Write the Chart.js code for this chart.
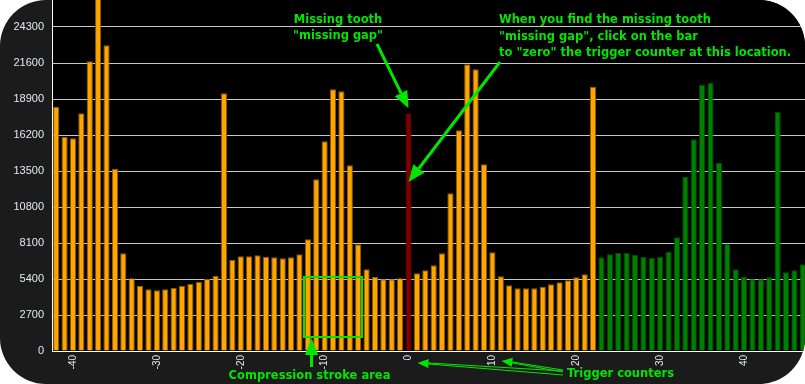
<!DOCTYPE html>
<html><head><meta charset="utf-8">
<script src="https://cdn.jsdelivr.net/npm/chart.js@4/dist/chart.umd.min.js"></script>
<style>
html,body{margin:0;padding:0;background:#fff;overflow:hidden;width:805px;height:384px}
#panel{position:absolute;left:0;top:0;width:805px;height:384px;border-radius:46px;overflow:hidden;background:#1b1b1b}
#wrap{position:absolute;left:0;top:0;width:807px;height:384px}
</style></head><body>
<div id="panel"><div id="wrap"><canvas id="c"></canvas></div></div>
<script>
// Trigger counter positions (categories)
const categories = [-42,-41,-40,-39,-38,-37,-36,-35,-34,-33,-32,-31,-30,-29,-28,-27,-26,-25,-24,-23,-22,-21,-20,-19,-18,-17,-16,-15,-14,-13,-12,-11,-10,-9,-8,-7,-6,-5,-4,-3,-2,-1,0,1,2,3,4,5,6,7,8,9,10,11,12,13,14,15,16,17,18,19,20,21,22,23,24,25,26,27,28,29,30,31,32,33,34,35,36,37,38,39,40,41,42,43,44,45,46,47];
// Bar values
const counts = [18325,16075,15950,17825,21725,27500,22925,13675,7325,5450,4875,4625,4550,4625,4725,4875,5025,5175,5400,5625,19325,6825,7100,7100,7175,7075,7025,6950,7025,7250,8375,12875,15725,19625,19475,13925,8000,6125,5550,5375,5375,5450,17825,5825,6050,6425,7325,11825,16550,21500,21125,14000,7400,5600,4925,4700,4700,4700,4825,5000,5150,5300,5525,5750,19825,7025,7250,7375,7375,7225,7075,7000,7075,7450,8525,13075,15875,19975,20125,14125,8050,6125,5575,5375,5375,5525,17950,5900,6050,6500];
const yTicks = [0,2700,5400,8100,10800,13500,16200,18900,21600,24300];
const xTickLabels = [-40,-30,-20,-10,0,10,20,30,40];
const missingToothCategory = 0;
const firstNextCycleCategory = 23;
const yMax = 26325;

const GREEN = '#00e600';
function colorFor(cat, kind){
  if (cat === missingToothCategory) return kind==='fill' ? '#800000' : '#560000';
  if (cat >= firstNextCycleCategory) return kind==='fill' ? '#008000' : '#004a00';
  return kind==='fill' ? '#ffa500' : '#8c5a00';
}

function arrow(ctx, x1, y1, x2, y2, headLen, headW, lw){
  const a = Math.atan2(y2-y1, x2-x1);
  const bx = x2 - headLen*Math.cos(a), by = y2 - headLen*Math.sin(a);
  ctx.lineWidth = lw;
  ctx.beginPath(); ctx.moveTo(x1,y1); ctx.lineTo(bx,by); ctx.stroke();
  const px = -Math.sin(a)*headW/2, py = Math.cos(a)*headW/2;
  ctx.beginPath(); ctx.moveTo(x2,y2); ctx.lineTo(bx+px,by+py); ctx.lineTo(bx-px,by-py); ctx.closePath(); ctx.fill();
}

const bgPlugin = {
  id:'bg',
  beforeDraw(chart){
    const {ctx, chartArea:a} = chart;
    ctx.save(); ctx.fillStyle = '#000'; ctx.fillRect(a.left, a.top, a.right-a.left, a.bottom-a.top); ctx.restore();
  }
};

const notePlugin = {
  id:'notes',
  afterDraw(chart){
    const {ctx} = chart;
    const xs = chart.scales.x, ys = chart.scales.y;
    const i0 = categories.indexOf(missingToothCategory);
    const tx = xs.getPixelForValue(i0);
    const ty = ys.getPixelForValue(counts[i0]);
    ctx.save();
    ctx.fillStyle = GREEN; ctx.strokeStyle = GREEN;
    ctx.font = 'bold 11.5px "DejaVu Sans"';
    ctx.textBaseline = 'middle';
    ctx.textAlign = 'center';
    ctx.fillText('Missing tooth', 338, 20);
    ctx.fillText('"missing gap"', 338, 36);
    ctx.textAlign = 'left';
    ctx.fillText('When you find the missing tooth', 499, 20);
    ctx.fillText('"missing gap", click on the bar', 499, 37);
    ctx.fillText('to "zero" the trigger counter at this location.', 499, 53);
    // arrows to missing tooth
    arrow(ctx, 377, 44, tx, ty-5, 17, 14, 3);
    arrow(ctx, 500, 62, tx, 182, 17, 14, 3);
    // compression stroke area box
    const iL = categories.indexOf(-12) - 0.46, iR = categories.indexOf(-6) + 0.45;
    const bxL = xs.getPixelForValue(iL), bxR = xs.getPixelForValue(iR);
    const byT = ys.getPixelForValue(5550), byB = ys.getPixelForValue(1050);
    ctx.lineWidth = 2;
    ctx.strokeRect(bxL, byT, bxR-bxL, byB-byT);
    arrow(ctx, 311.5, 367, 311.5, byB+1, 17, 13, 3);
    ctx.textAlign = 'center';
    ctx.fillText('Compression stroke area', 309.5, 376);
    ctx.textAlign = 'left';
    ctx.fillText('Trigger counters', 567, 374);
    // trigger counter arrows
    const p0 = xs.getPixelForValue(categories.indexOf(0));
    const p10 = xs.getPixelForValue(categories.indexOf(10));
    ctx.lineWidth = 1;
    ctx.beginPath(); ctx.moveTo(563,371); ctx.lineTo(p0+20,363); ctx.stroke();
    ctx.beginPath(); ctx.moveTo(563,375); ctx.lineTo(p0+20,364); ctx.stroke();
    arrow(ctx, p0+22, 363.5, p0+9, 363, 11, 9, 1);
    ctx.beginPath(); ctx.moveTo(563,370); ctx.lineTo(p10+20,362); ctx.stroke();
    ctx.beginPath(); ctx.moveTo(563,372); ctx.lineTo(p10+20,363); ctx.stroke();
    arrow(ctx, p10+22, 362.5, p10+9, 361, 11, 9, 1);
    ctx.restore();
  }
};

new Chart(document.getElementById('c'), {
  type:'bar',
  data:{
    labels: categories,
    datasets:[{
      data: counts,
      backgroundColor: c => colorFor(categories[c.dataIndex], 'fill'),
      borderColor: c => colorFor(categories[c.dataIndex], 'border'),
      borderWidth: 1,
      barPercentage: 0.74,
      categoryPercentage: 1.0
    }]
  },
  options:{
    responsive:true, maintainAspectRatio:false, animation:false, devicePixelRatio:1,
    layout:{padding:0},
    plugins:{legend:{display:false}, tooltip:{enabled:false}},
    scales:{
      x:{
        z:1,
        grid:{display:false, drawTicks:false},
        border:{display:true, color:'#ffffff', width:1},
        ticks:{
          autoSkip:false, maxRotation:90, minRotation:90, padding:4,
          color:'#e2e9f4', font:{family:'"Liberation Sans"', size:10},
          callback:(v,i)=> xTickLabels.includes(categories[i]) ? String(categories[i]) : ''
        },
        afterFit(s){ s.height = 33; s.paddingLeft = 0; s.paddingRight = 0; }
      },
      y:{
        z:1, min:0, max:yMax,
        grid:{color:'#c8c8c8', lineWidth:1, drawTicks:false},
        border:{display:true, color:'#ffffff', width:1},
        ticks:{stepSize:2700, padding:8, color:'#e2e9f4', font:{family:'"Liberation Sans"', size:11},
          callback:v=>String(v)},
        afterBuildTicks(s){ s.ticks = yTicks.map(v=>({value:v})); },
        afterFit(s){ s.width = 52; s.paddingTop = 0; s.paddingBottom = 0; }
      }
    }
  },
  plugins:[bgPlugin, notePlugin]
});
</script>
</body></html>
